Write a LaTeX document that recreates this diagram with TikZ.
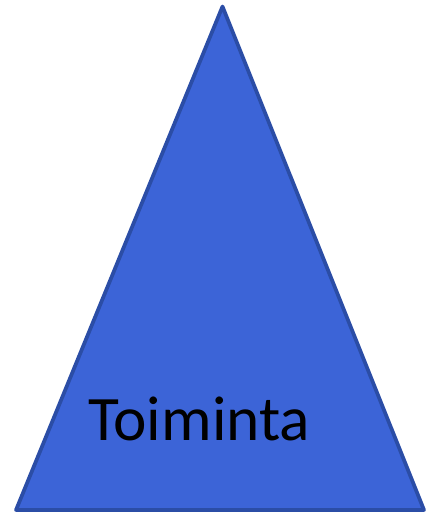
\documentclass[tikz,border=0pt]{standalone}
\usepackage{fontspec}
\setmainfont{Carlito}
\definecolor{pyramidfill}{HTML}{3C64D7}
\definecolor{pyramidline}{HTML}{2B4DA6}

\begin{document}
\begin{tikzpicture}[x=.75pt,y=-.75pt]
\path[use as bounding box] (0,0) rectangle (425,513);
\coordinate (top) at (222.5,6.5);
\coordinate (left) at (16,510);
\coordinate (right) at (424,510);
\draw[fill=pyramidfill,draw=pyramidline,line width=2.8pt,line join=round] (top)--(left)--(right)--cycle;
\node[anchor=base west,inner sep=0pt,font=\fontsize{47.5}{57}\selectfont] (toiminta) at (88,440) {Toiminta};
\end{tikzpicture}
\end{document}
